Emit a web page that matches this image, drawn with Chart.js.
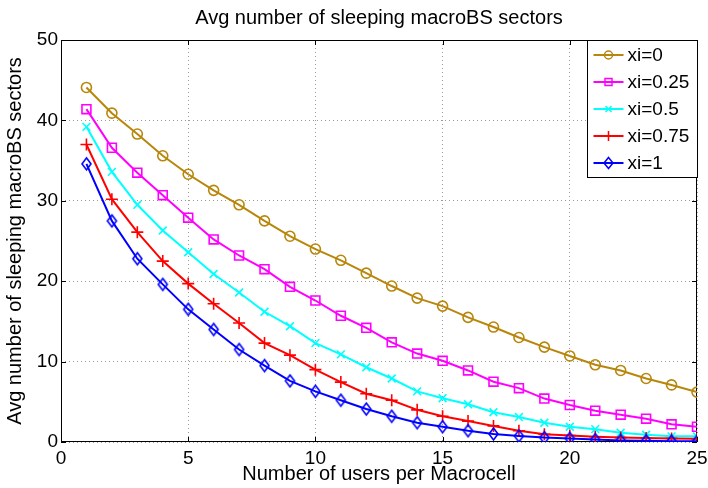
<!DOCTYPE html>
<html>
<head>
<meta charset="utf-8">
<script src="https://cdn.jsdelivr.net/npm/chart.js@4.4.1/dist/chart.umd.min.js"></script>
<style>
  html, body { margin: 0; padding: 0; background: #ffffff; }
  #wrap { width: 708px; height: 488px; position: relative; }
</style>
</head>
<body>
<div id="wrap"><canvas id="c" width="708" height="488"></canvas></div>
<script>
// ---------- data ----------
const users = [1,2,3,4,5,6,7,8,9,10,11,12,13,14,15,16,17,18,19,20,21,22,23,24,25];
const seriesLabels = ['xi=0', 'xi=0.25', 'xi=0.5', 'xi=0.75', 'xi=1'];
const xi0   = [44.1, 40.9, 38.3, 35.6, 33.3, 31.3, 29.5, 27.5, 25.6, 24.0, 22.6, 21.0, 19.4, 17.9, 16.9, 15.5, 14.3, 13.0, 11.8, 10.7, 9.6, 8.9, 7.9, 7.1, 6.2];
const xi025 = [41.4, 36.6, 33.5, 30.7, 27.9, 25.2, 23.2, 21.5, 19.3, 17.6, 15.7, 14.2, 12.4, 11.0, 10.1, 8.9, 7.5, 6.7, 5.4, 4.6, 3.9, 3.4, 2.9, 2.2, 1.9];
const xi05  = [39.2, 33.6, 29.5, 26.3, 23.6, 20.9, 18.6, 16.2, 14.4, 12.3, 10.9, 9.3, 7.9, 6.3, 5.45, 4.7, 3.7, 3.1, 2.4, 1.9, 1.6, 1.15, 0.9, 0.7, 0.7];
const xi075 = [37.0, 30.2, 26.1, 22.5, 19.7, 17.2, 14.8, 12.3, 10.8, 9.0, 7.45, 6.0, 5.2, 4.0, 3.2, 2.6, 2.0, 1.4, 0.95, 0.8, 0.65, 0.55, 0.5, 0.45, 0.4];
const xi1   = [34.6, 27.5, 22.8, 19.6, 16.5, 14.0, 11.5, 9.5, 7.6, 6.3, 5.2, 4.1, 3.2, 2.4, 1.9, 1.4, 1.0, 0.75, 0.55, 0.45, 0.3, 0.2, 0.15, 0.1, 0.08];
const xTicks = [0, 5, 10, 15, 20, 25];
const yTicks = [0, 10, 20, 30, 40, 50];
const titleText = 'Avg number of sleeping macroBS sectors';
const xTitle = 'Number of users per Macrocell';
const yTitle = 'Avg number of sleeping macroBS sectors';

// ---------- styles ----------
const FONT = "'Liberation Sans', Arial, Helvetica, sans-serif";
const colors = ['#B8860B', '#FF00FF', '#00FFFF', '#FF0000', '#0000FF'];
const markers = ['circle', 'rect', 'crossRot', 'cross', 'diamond'];

function makeDiamond(color, w, h, lw) {
  const c = document.createElement('canvas');
  c.width = w + 4; c.height = h + 4;
  const g = c.getContext('2d');
  g.strokeStyle = color; g.lineWidth = lw;
  const cx = c.width / 2, cy = c.height / 2;
  g.beginPath();
  g.moveTo(cx, cy - h / 2); g.lineTo(cx + w / 2, cy);
  g.lineTo(cx, cy + h / 2); g.lineTo(cx - w / 2, cy);
  g.closePath(); g.stroke();
  return c;
}
const diamondImg = makeDiamond('#0000FF', 9, 12, 1.6);

const seriesValues = [xi0, xi025, xi05, xi075, xi1];
const pointCfg = [
  { style: 'circle', r: 5 },
  { style: 'rect', r: 6.3 },
  { style: 'crossRot', r: 5.5 },
  { style: 'cross', r: 6 },
  { style: diamondImg, r: 6 }
];

const datasets = seriesValues.map((vals, i) => ({
  label: seriesLabels[i],
  data: users.map((u, k) => ({ x: u, y: vals[k] })),
  borderColor: colors[i],
  backgroundColor: colors[i],
  borderWidth: 2,
  pointStyle: pointCfg[i].style,
  pointRadius: pointCfg[i].r,
  pointHoverRadius: pointCfg[i].r,
  pointBorderColor: colors[i],
  pointBackgroundColor: 'rgba(0,0,0,0)',
  pointBorderWidth: 1.6,
  tension: 0,
  order: 4 - i
}));

// ---------- legend marker drawing ----------
function drawLegendMarker(ctx, kind, x, y, color) {
  ctx.save();
  ctx.strokeStyle = color; ctx.lineWidth = 1.5;
  ctx.beginPath();
  if (kind === 'circle') {
    ctx.arc(x, y, 4, 0, Math.PI * 2);
  } else if (kind === 'rect') {
    ctx.rect(x - 3.5, y - 3.5, 7, 7);
  } else if (kind === 'crossRot') {
    ctx.moveTo(x - 3, y - 3); ctx.lineTo(x + 3, y + 3);
    ctx.moveTo(x + 3, y - 3); ctx.lineTo(x - 3, y + 3);
  } else if (kind === 'cross') {
    ctx.moveTo(x - 5, y); ctx.lineTo(x + 5, y);
    ctx.moveTo(x, y - 5); ctx.lineTo(x, y + 5);
  } else if (kind === 'diamond') {
    ctx.moveTo(x, y - 5.5); ctx.lineTo(x + 4.5, y);
    ctx.lineTo(x, y + 5.5); ctx.lineTo(x - 4.5, y); ctx.closePath();
  }
  ctx.stroke();
  ctx.restore();
}

// ---------- frame + inward ticks + legend ----------
const framePlugin = {
  id: 'mlFrame',
  beforeDatasetsDraw(chart) {
    const ctx = chart.ctx, a = chart.chartArea;
    const xs = chart.scales.x, ys = chart.scales.y;
    ctx.save();
    ctx.strokeStyle = '#000'; ctx.lineWidth = 1;
    ctx.strokeRect(Math.round(a.left) + 0.5, Math.round(a.top) + 0.5,
                   Math.round(a.right - a.left) - 1, Math.round(a.bottom - a.top) - 1);
    const tl = 5;
    ctx.beginPath();
    xTicks.forEach(v => {
      const px = Math.round(xs.getPixelForValue(v)) + 0.5;
      ctx.moveTo(px, a.bottom); ctx.lineTo(px, a.bottom - tl);
      ctx.moveTo(px, a.top); ctx.lineTo(px, a.top + tl);
    });
    yTicks.forEach(v => {
      const py = Math.round(ys.getPixelForValue(v)) + 0.5;
      ctx.moveTo(a.left, py); ctx.lineTo(a.left + tl, py);
      ctx.moveTo(a.right, py); ctx.lineTo(a.right - tl, py);
    });
    ctx.stroke();
    ctx.restore();
  },
  afterDraw(chart) {
    const ctx = chart.ctx, a = chart.chartArea;
    const bl = Math.round(a.right) - 110 + 0.5, bt = Math.round(a.top) + 0.5;
    const bw = 110, bh = 137;
    ctx.save();
    ctx.fillStyle = '#fff';
    ctx.fillRect(bl, bt, bw, bh);
    ctx.strokeStyle = '#000'; ctx.lineWidth = 1;
    ctx.strokeRect(bl, bt, bw, bh);
    chart.data.datasets.forEach((ds, i) => {
      const y = a.top + 15 + i * 27;
      const lx0 = bl + 6, lx1 = bl + 36, mx = bl + 21;
      ctx.strokeStyle = ds.borderColor; ctx.lineWidth = 2;
      ctx.beginPath(); ctx.moveTo(lx0, y); ctx.lineTo(lx1, y); ctx.stroke();
      drawLegendMarker(ctx, markers[i], mx, y, ds.borderColor);
      ctx.fillStyle = '#000';
      ctx.font = '19px ' + FONT;
      ctx.textAlign = 'left'; ctx.textBaseline = 'middle';
      ctx.fillText(ds.label, bl + 40, y + 1);
    });
    ctx.restore();
  }
};

function zeroPad(s) { s.paddingLeft = 0; s.paddingRight = 0; s.paddingTop = 0; s.paddingBottom = 0; }

Chart.defaults.font.family = FONT;
Chart.defaults.color = '#000';

new Chart(document.getElementById('c'), {
  type: 'line',
  data: { datasets },
  options: {
    responsive: false,
    animation: false,
    devicePixelRatio: 1,
    layout: { padding: { left: 0, right: 11, top: 0, bottom: 0 } },
    plugins: {
      legend: { display: false },
      tooltip: { enabled: false },
      title: {
        display: true, text: titleText, color: '#000', fullSize: false,
        font: { size: 20, weight: 'normal', family: FONT, lineHeight: 1.2 },
        padding: { top: 6, bottom: 10 }
      }
    },
    scales: {
      x: {
        type: 'linear', min: 0, max: 25,
        afterFit(s) { s.height = 46; zeroPad(s); },
        afterBuildTicks(s) { s.ticks = xTicks.map(v => ({ value: v })); },
        ticks: { font: { size: 19, family: FONT }, color: '#000', padding: 5, maxRotation: 0 },
        grid: { color: '#9a9a9a', lineWidth: 1, drawTicks: false },
        border: { display: false, dash: [1, 3] },
        title: { display: true, text: xTitle, color: '#000',
                 font: { size: 20, family: FONT, lineHeight: 1.2 }, padding: { top: 0, bottom: 2 } }
      },
      y: {
        type: 'linear', min: 0, max: 50,
        afterFit(s) { s.width = 61; zeroPad(s); },
        afterBuildTicks(s) { s.ticks = yTicks.map(v => ({ value: v })); },
        ticks: { font: { size: 19, family: FONT }, color: '#000', padding: 3 },
        grid: { color: '#9a9a9a', lineWidth: 1, drawTicks: false },
        border: { display: false, dash: [1, 3] },
        title: { display: true, text: yTitle, color: '#000',
                 font: { size: 20, family: FONT, lineHeight: 1.2 }, padding: { top: 3, bottom: 0 } }
      }
    }
  },
  plugins: [framePlugin]
});
</script>
</body>
</html>
